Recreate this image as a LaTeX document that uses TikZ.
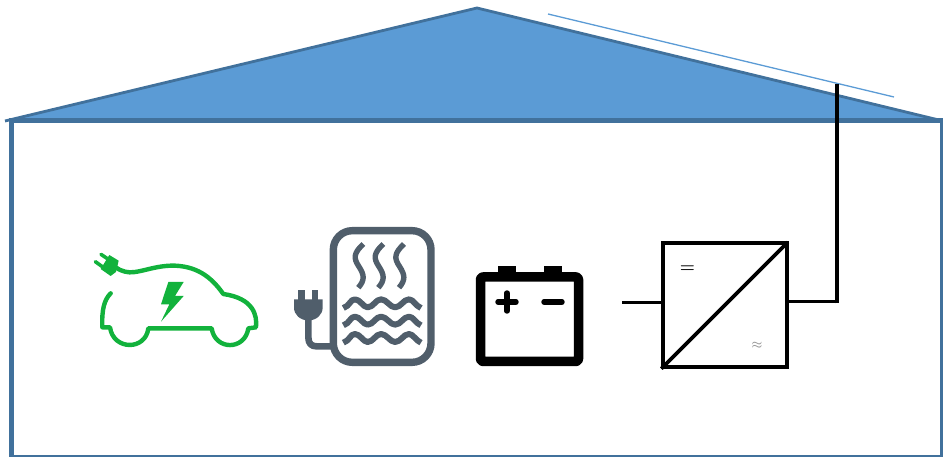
\documentclass[tikz,border=0pt]{standalone}
\definecolor{roofblue}{HTML}{5B9BD5}
\definecolor{edgeblue}{HTML}{41719C}
\definecolor{cargreen}{HTML}{12B23C}
\definecolor{heatgrey}{HTML}{505E6B}
\tikzset{
  wallline/.style={draw=edgeblue,line cap=butt},
  wire/.style={draw=black,line width=3pt,line join=miter},
  carline/.style={draw=cargreen,line width=4.4pt,line cap=round,line join=round},
  heatline/.style={draw=heatgrey,line join=round},
  zoomcar/.style={shift={(80,220)},x=0.33333pt,y=-0.33333pt},
  zoomheat/.style={shift={(285,220)},x=0.33333pt,y=-0.33333pt},
  convbox/.style={draw=black,line width=3.3pt,minimum width=124pt,minimum height=124pt,inner sep=0pt,fill=white},
  battbox/.style={draw=black,line width=9.5pt,rounded corners=2.5pt,line join=round,minimum width=98pt,minimum height=84.5pt,inner sep=0pt},
  terminal/.style={fill=black,draw=none,minimum width=18pt,minimum height=9pt,inner sep=0pt},
  sign/.style={draw=black,line width=5.4pt,line cap=round}
}
\begin{document}
\begin{tikzpicture}[x=1pt,y=-1pt]
\useasboundingbox (0,0) rectangle (943,457);
% roof
\coordinate (eaveL) at (5,121);
\coordinate (ridge) at (477,8);
\coordinate (eaveR) at (943,121);
\fill[roofblue] (eaveL) -- (ridge) -- (eaveR) -- cycle;
\draw[draw=edgeblue,line width=2.8pt,line join=miter] (eaveL) -- (ridge) -- (eaveR);
% walls
\draw[wallline,line width=5pt] (11,119) -- (11,457);
\draw[wallline,line width=5pt] (9,121) -- (943,121);
\draw[wallline,line width=2.6pt] (941.5,119) -- (941.5,457);
\draw[wallline,line width=2.6pt] (9,456) -- (942,456);
% panel
\coordinate (panelA) at (548,14);
\coordinate (panelB) at (894,97);
\draw[draw=roofblue,line width=1.3pt] (panelA) -- (panelB);
% converter
\node[convbox] (conv) at (725,305) {};
\draw[black,line width=3.6pt,line cap=butt,shorten >=1.2pt] (conv.south west) -- (conv.north east);
\node[font=\fontsize{17}{17}\selectfont\boldmath,inner sep=0pt] (dcsign) at (687.5,269) {$=$};
\node[font=\fontsize{13}{13}\selectfont\boldmath,inner sep=0pt,text=black!40] (acsign) at (757,345) {$\approx$};
\coordinate (wireL) at (622,302.5);
\coordinate (wireT) at (837,84);
\coordinate (wireC) at (837,302);
\draw[wire] (wireL) -- (wireL -| conv.west);
\draw[wire] (wireC -| conv.east) -- (wireC);
\draw[black,line width=4.2pt] (wireC) ++(0,1.5) -- (wireT);
% battery
\node[battbox] (batt) at (529.5,319.2) {};
\node[terminal] (termP) at (507,270.5) {};
\node[terminal] (termN) at (553,270.5) {};
\coordinate (plusC) at (507,302);
\coordinate (minusC) at (553,302);
\draw[sign] ([xshift=-9pt]plusC) -- ([xshift=9pt]plusC);
\draw[sign] ([yshift=-9pt]plusC) -- ([yshift=9pt]plusC);
\draw[sign] ([xshift=-9pt]minusC) -- ([xshift=9pt]minusC);
% car
\begin{scope}[zoomcar]
\draw[carline] (92,220) .. controls (72,240) and (65,270) .. (67,322) -- (90,322)
  .. controls (100,392) and (197,392) .. (205,325) -- (395,325)
  .. controls (405,392) and (495,392) .. (505,325) -- (528,322)
  .. controls (532,285) and (520,235) .. (430,222)
  .. controls (400,180) and (360,140) .. (285,137)
  .. controls (220,135) and (170,165) .. (135,155)
  .. controls (125,153) and (115,148) .. (105,140);
\fill[cargreen] (88,105) -- (116,122) -- (108,156) -- (92,168) -- (62,147) -- cycle;
\draw[cargreen,line width=3.6pt,line cap=round] (85,118) -- (63,103);
\draw[cargreen,line width=3.6pt,line cap=round] (67,140) -- (46,125);
\fill[cargreen] (265,186) -- (311,186) -- (285,228) -- (311,228) -- (243,305) -- (268,253) -- (243,253) -- cycle;
\end{scope}
% heater
\begin{scope}[zoomheat]
\draw[heatline,line width=7.4pt,rounded corners=19pt] (145,32) rectangle (438,427);
\foreach \sx in {0,60,122}{
  \draw[heatline,line width=5.4pt] (235+\sx,72) .. controls (205+\sx,100) and (205+\sx,115) .. (222+\sx,140)
     .. controls (238+\sx,165) and (240+\sx,180) .. (220+\sx,203);
}
\foreach \sy in {0,52,104}{
  \draw[heatline,line width=6pt] (175,264+\sy) .. controls (195,258+\sy) and (195,238+\sy) .. (210,238+\sy)
    .. controls (225,238+\sy) and (235,262+\sy) .. (248,262+\sy)
    .. controls (265,262+\sy) and (272,238+\sy) .. (288,238+\sy)
    .. controls (305,238+\sy) and (315,262+\sy) .. (330,262+\sy)
    .. controls (348,262+\sy) and (355,238+\sy) .. (372,238+\sy)
    .. controls (385,238+\sy) and (392,258+\sy) .. (408,264+\sy);
}
\fill[heatgrey] (40,210) rectangle (59,245);
\fill[heatgrey] (80,210) rectangle (99,245);
\fill[heatgrey] (27,238) -- (113,238) -- (113,262) .. controls (113,285) and (95,300) .. (70,302) .. controls (45,300) and (27,285) .. (27,262) -- cycle;
\draw[heatline,line width=6.6pt] (70,295) -- (70,352) .. controls (70,372) and (80,379) .. (95,379) -- (145,379);
\end{scope}
\end{tikzpicture}
\end{document}
